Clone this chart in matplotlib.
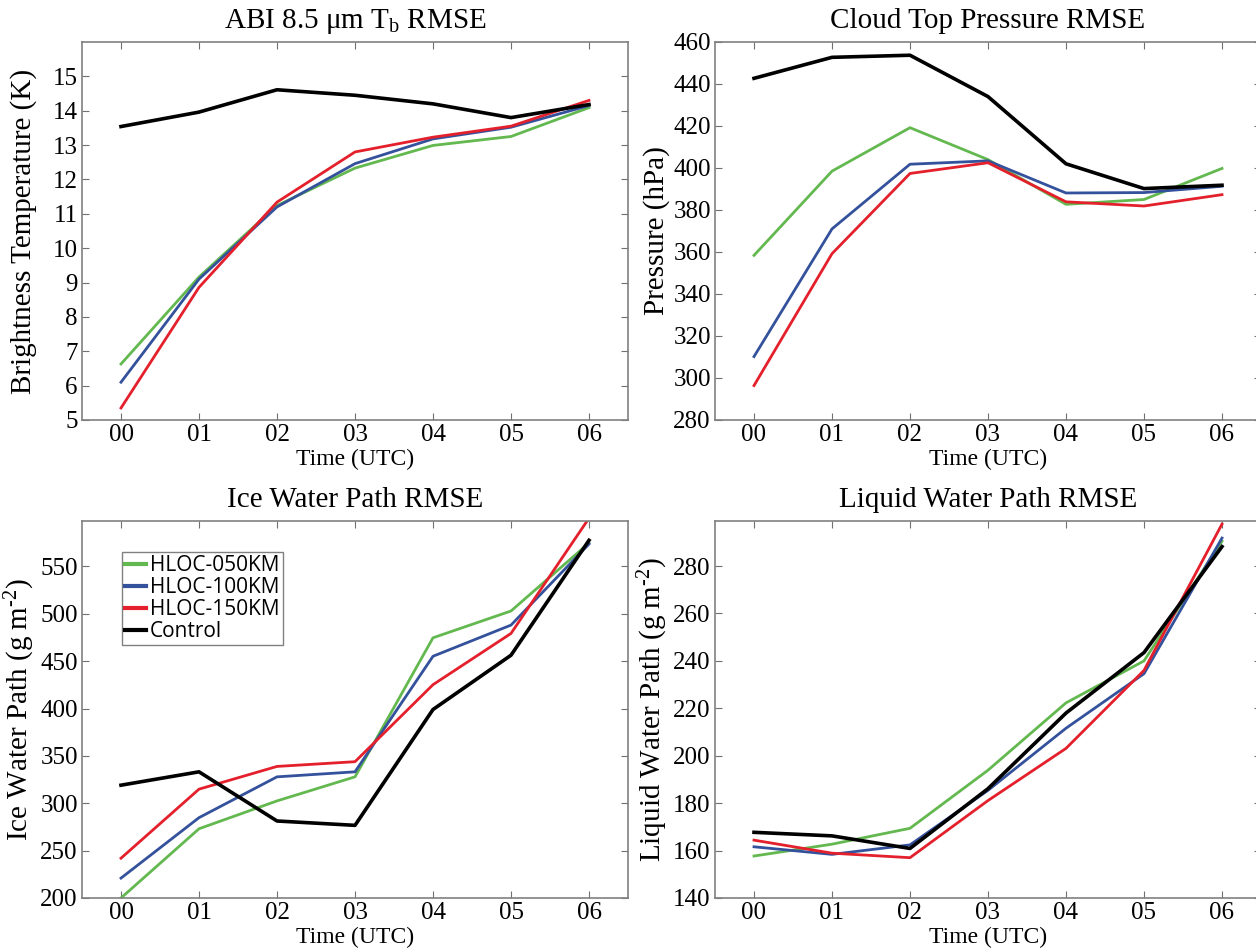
import matplotlib
matplotlib.use("Agg")
import matplotlib.pyplot as plt

plt.rcParams['font.family'] = ['Liberation Serif', 'DejaVu Serif']
plt.rcParams['mathtext.fontset'] = 'custom'
plt.rcParams['mathtext.rm'] = 'Liberation Serif'
plt.rcParams['mathtext.it'] = 'Liberation Serif:italic'

times = ['00', '01', '02', '03', '04', '05', '06']
names = ['HLOC-050KM', 'HLOC-100KM', 'HLOC-150KM', 'Control']
colors = ['#63b84f', '#34519c', '#e3202b', '#000000']

# ABI 8.5um brightness temperature RMSE (K)
tb_050 = [6.63, 9.16, 11.24, 12.33, 12.99, 13.25, 14.09]
tb_100 = [6.10, 9.10, 11.20, 12.46, 13.18, 13.52, 14.15]
tb_150 = [5.35, 8.86, 11.34, 12.80, 13.23, 13.55, 14.30]
tb_ctl = [13.54, 13.96, 14.61, 14.45, 14.20, 13.80, 14.18]

# cloud top pressure RMSE (hPa)
ctp_050 = [358.4, 398.5, 419.2, 404.0, 382.7, 385.0, 399.8]
ctp_100 = [310.2, 371.0, 401.8, 403.4, 388.1, 388.3, 391.3]
ctp_150 = [296.4, 359.2, 397.4, 402.5, 383.9, 381.9, 387.3]
ctp_ctl = [442.7, 452.7, 453.7, 434.0, 402.0, 390.2, 391.8]

# ice water path RMSE (g m-2)
iwp_050 = [200.0, 273.1, 302.5, 327.9, 474.7, 503.0, 574.8]
iwp_100 = [221.0, 284.8, 327.9, 333.2, 455.2, 488.1, 573.7]
iwp_150 = [242.0, 314.9, 338.9, 343.9, 425.2, 479.3, 601.0]
iwp_ctl = [319.1, 333.2, 281.3, 276.7, 399.0, 456.3, 577.6]

# liquid water path RMSE (g m-2)
lwp_050 = [157.7, 162.7, 169.4, 193.9, 222.3, 240.0, 290.5]
lwp_100 = [161.6, 158.4, 162.4, 185.4, 211.6, 234.6, 291.8]
lwp_150 = [164.4, 158.9, 157.0, 181.1, 203.1, 236.0, 297.7]
lwp_ctl = [167.7, 166.2, 160.9, 186.1, 218.0, 243.5, 288.2]

panels = [
    (r'ABI 8.5 $\mathrm{\mu}$m T$_\mathrm{b}$ RMSE', 'Brightness Temperature (K)',
     [tb_050, tb_100, tb_150, tb_ctl], (5, 16.0), range(5, 16)),
    ('Cloud Top Pressure RMSE', 'Pressure (hPa)',
     [ctp_050, ctp_100, ctp_150, ctp_ctl], (280, 460), range(280, 461, 20)),
    ('Ice Water Path RMSE', r'Ice Water Path (g m$^{\text{-2}}$)',
     [iwp_050, iwp_100, iwp_150, iwp_ctl], (200, 598), range(200, 551, 50)),
    ('Liquid Water Path RMSE', r'Liquid Water Path (g m$^{\text{-2}}$)',
     [lwp_050, lwp_100, lwp_150, lwp_ctl], (140, 299), range(140, 281, 20)),
]

W, H = 1256, 952
fig = plt.figure(figsize=(W / 100, H / 100), dpi=100)
boxes = [(82, 42, 628, 420), (715, 42, 1261, 420),
         (82, 521, 628, 898), (715, 521, 1261, 898)]

x = list(range(len(times)))
for i, (title, ylab, series, ylim, yt) in enumerate(panels):
    l, t, r, b = boxes[i]
    ax = fig.add_axes([l / W, 1 - b / H, (r - l) / W, (b - t) / H])
    for s, c, n in zip(series, colors, names):
        lw = 2.6 if n == 'Control' else 2.0
        ax.plot(x, s, color=c, lw=lw, label=n)
    ax.set_xlim(-0.5, 6.5)
    ax.set_ylim(*ylim)
    ax.set_xticks(x)
    ax.set_xticklabels(times)
    ax.set_yticks(list(yt))
    ax.tick_params(direction='in', top=True, right=True, length=5,
                   color='#707070', labelsize=18, pad=3)
    for sp in ax.spines.values():
        sp.set_color('#808080')
        sp.set_linewidth(1.2)
    ax.set_title(title, fontsize=21, pad=10)
    ax.set_ylabel(ylab, fontsize=21)
    ax.yaxis.set_label_coords(-0.082, 0.5)
    ax.set_xlabel('Time (UTC)', fontsize=17, labelpad=2)
    if i == 2:
        leg = ax.legend(loc='upper left', bbox_to_anchor=(0.073, 0.918),
                        borderaxespad=0, fancybox=False, framealpha=1,
                        edgecolor='#808080', handlelength=1.0,
                        handletextpad=0.2, labelspacing=0.05,
                        borderpad=0.15,
                        prop={'family': 'Open Sans', 'size': 15})
        leg.get_frame().set_linewidth(1.0)
        for h in leg.get_lines():
            h.set_linewidth(3)

fig.savefig('out.png', dpi=100)
